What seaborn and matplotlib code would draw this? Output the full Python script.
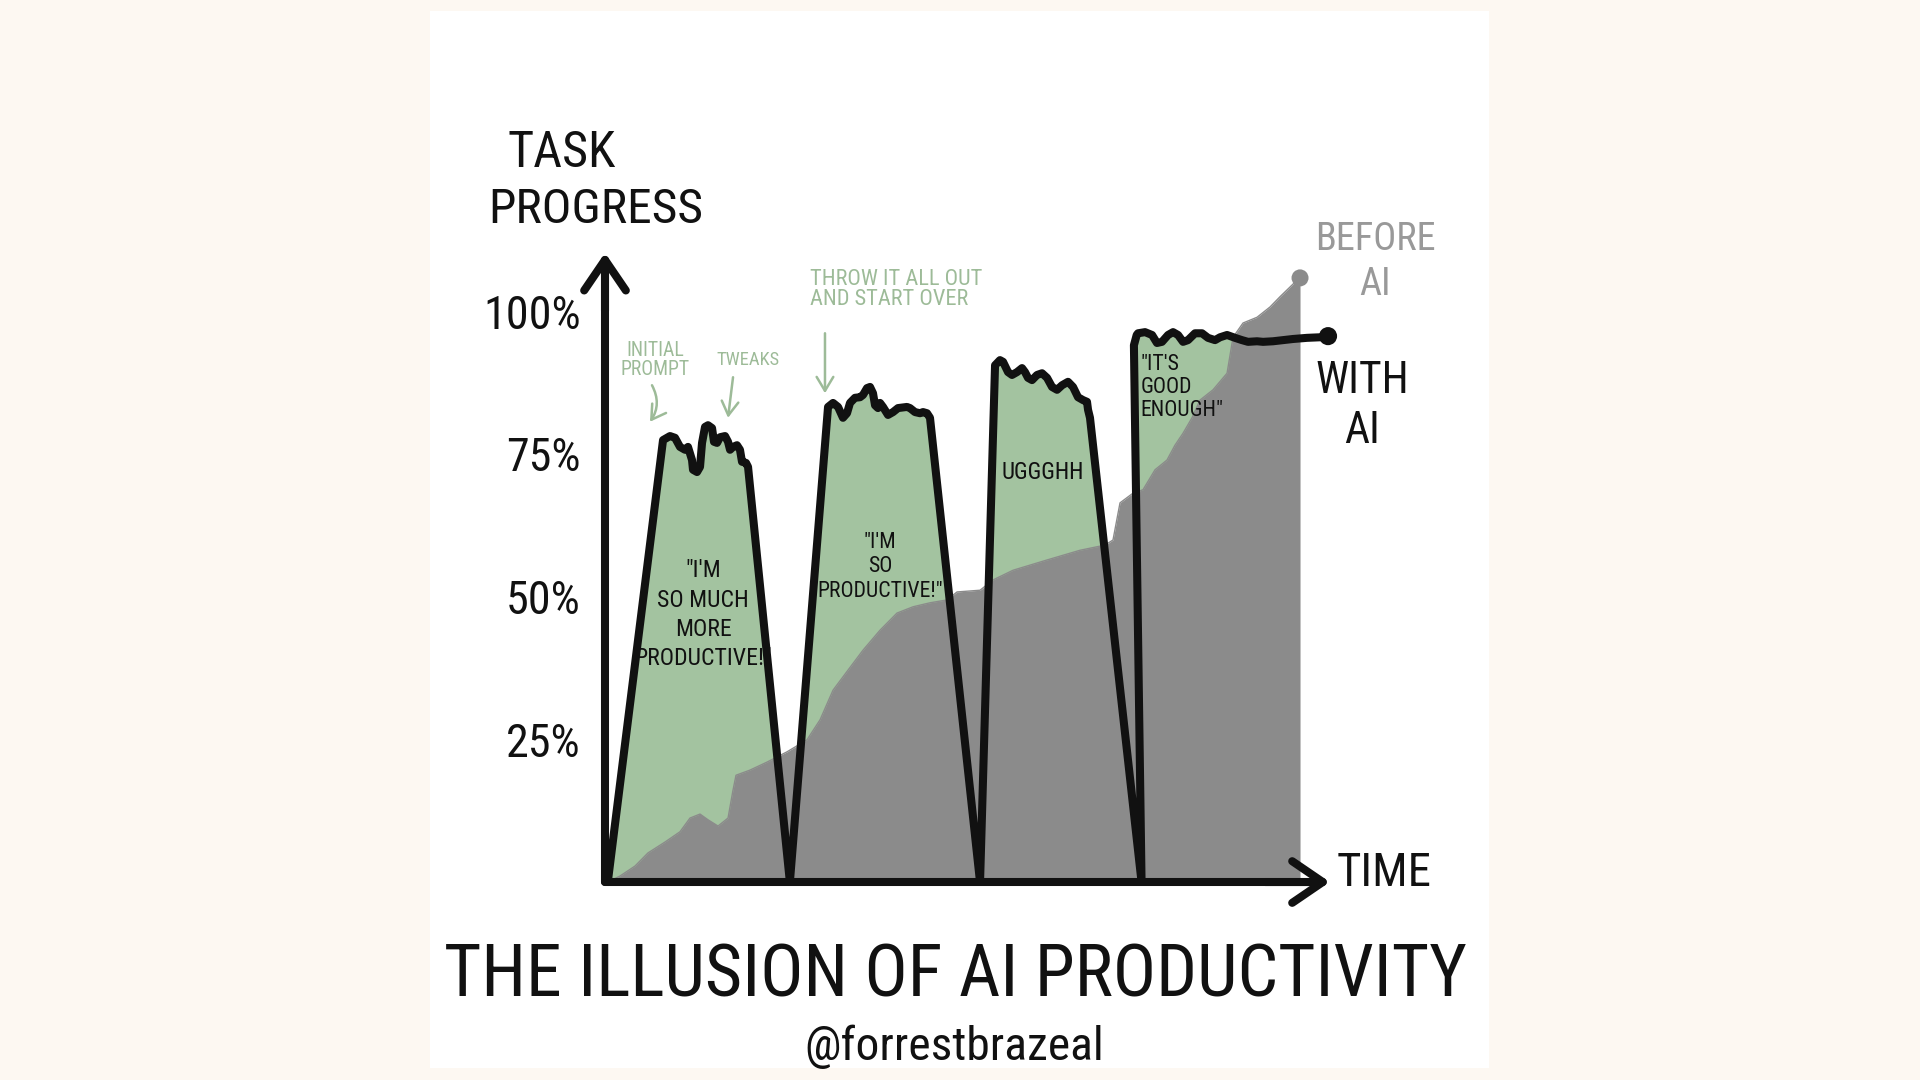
import numpy as np
import pandas as pd
import matplotlib
matplotlib.use("Agg")
import matplotlib.pyplot as plt
import seaborn as sns
from matplotlib import font_manager

# ---------------- data (time units 0-100 = end of "before AI" run, progress in %) ----------------
with_ai_time = [0.4, 8.35, 9.35, 10.07, 10.79, 11.51, 11.94, 12.52, 12.66, 13.24, 13.67, 13.96, 14.39,
                14.82, 15.40, 15.68, 16.12, 16.55, 17.27, 17.70, 17.99, 18.42, 18.99, 19.42, 19.71,
                20.29, 20.58, 26.6,
                32.09, 32.81, 33.53, 34.24, 34.82, 35.25, 35.97, 36.69, 37.12, 37.70, 38.13, 38.56,
                38.85, 39.28, 39.57, 40.0, 40.72, 41.44, 42.16, 43.45, 43.88, 44.60, 45.32, 45.76,
                46.33, 46.76, 53.96,
                56.12, 56.83, 57.27, 57.99, 58.56, 59.28, 60.0, 60.43, 60.86, 61.44, 62.16, 62.88,
                63.60, 64.32, 65.04, 65.76, 66.62, 67.34, 68.06, 68.78, 69.35, 69.50, 69.78, 77.2,
                76.1, 76.5, 76.69, 77.70, 78.71, 79.42, 80.14, 81.01, 81.73, 82.45, 83.17, 83.88,
                84.89, 85.90, 86.76, 87.77, 88.49, 89.50, 90.65, 91.65, 92.52, 93.81, 94.68, 96.12,
                97.55, 98.99, 101.0, 102.88, 104.03]
with_ai_progress = [0.0, 77.4, 78.1, 77.8, 76.2, 75.7, 76.2, 73.9, 72.2, 71.8, 72.7, 76.9, 79.7,
                    80.0, 79.5, 77.1, 76.9, 77.9, 78.1, 77.1, 75.7, 76.2, 76.5, 75.7, 73.6,
                    73.4, 72.7, 0.0,
                    83.2, 83.9, 83.2, 81.3, 82.1, 83.9, 84.8, 84.9, 85.3, 86.5, 86.7, 85.6,
                    83.5, 83.0, 83.9, 83.2, 81.8, 82.3, 83.0, 83.2, 83.0, 82.3, 82.1, 82.3,
                    82.1, 81.3, 0.0,
                    90.5, 91.4, 91.1, 89.3, 88.8, 89.3, 90.0, 89.3, 88.3, 87.9, 88.8, 89.1,
                    88.3, 86.7, 86.2, 87.0, 87.6, 86.7, 84.9, 84.4, 84.1, 82.7, 81.3, 0.0,
                    94.0, 95.8, 96.1, 96.3, 95.8, 94.4, 94.6, 95.8, 96.3, 95.8, 94.6, 94.9,
                    96.1, 96.1, 95.3, 94.9, 95.4, 95.8, 95.3, 94.9, 94.6, 94.7, 94.6, 94.7,
                    94.9, 95.1, 95.3, 95.4, 95.6]

before_ai_time = [0.4, 2.16, 4.32, 6.19, 8.63, 10.79, 12.23, 13.67, 14.82, 16.26, 17.70, 18.42,
                  18.85, 20.86, 23.31, 26.19, 29.06, 30.94, 32.81, 34.96, 37.12, 39.57, 42.01,
                  44.32, 46.76, 49.21, 50.65, 53.96, 55.83, 58.71, 63.60, 68.35, 71.94, 73.09,
                  74.10, 75.97, 77.41, 79.14, 80.86, 82.01, 83.17, 84.46, 85.61, 87.48, 89.50,
                  90.36, 91.80, 93.81, 95.68, 97.12, 98.56, 99.57, 100.0]
before_ai_progress = [0.0, 1.05, 2.8, 5.1, 7.0, 8.8, 11.2, 11.9, 10.9, 9.8, 11.2, 16.1,
                      18.7, 19.6, 21.0, 22.8, 24.9, 28.4, 33.6, 37.1, 40.6, 44.1, 47.1,
                      48.2, 48.9, 49.4, 50.8, 51.1, 52.9, 54.6, 56.4, 58.1, 59.0, 59.9,
                      66.4, 68.1, 68.7, 72.2, 73.9, 76.5, 78.6, 81.3, 84.4, 86.2, 89.1,
                      95.4, 97.9, 98.9, 100.7, 102.5, 104.2, 105.4, 105.8]

progress_ticks = [25, 50, 75, 100]
progress_tick_labels = ["25%", "50%", "75%", "100%"]

title_text = "THE ILLUSION OF AI PRODUCTIVITY"
credit_text = "@forrestbrazeal"

# ---------------- style ----------------
sns.set_theme(style="white")
entries = font_manager.fontManager.ttflist
names = {f.name for f in entries}
FONT, k, STRETCH = "DejaVu Sans", 0.8, "normal"
for cand, kk in [("Liberation Sans Narrow", 1.0), ("Roboto Condensed", 0.95),
                 ("Open Sans Condensed", 0.95), ("Noto Sans Condensed", 0.95)]:
    if cand in names:
        FONT, k = cand, kk
        break
else:
    for fam in ["DejaVu Sans", "Noto Sans", "Open Sans", "Roboto"]:
        conds = [f for f in entries if f.name == fam and str(f.stretch) in
                 ("condensed", "semi-condensed", "extra-condensed")]
        if conds:
            FONT, k, STRETCH = fam, (0.8 / 0.9 if fam == "DejaVu Sans" else 0.92), str(conds[0].stretch)
            break
plt.rcParams["font.family"] = [FONT, "DejaVu Sans"]
plt.rcParams["font.stretch"] = STRETCH

GREEN = "#a3c3a0"
GRAY = "#8b8b8b"
NOTE = "#9dbb98"
INK = "#111111"
BG = "#fdf8f2"

W, H = 1920, 1080
fig = plt.figure(figsize=(19.2, 10.8), dpi=100, facecolor=BG)
# white panel (pixel box 430..1489 x 11..1068) doubles as the axes
px0, px1, py0, py1 = 430, 1489, 11, 1068
ax = fig.add_axes([px0 / W, 1 - py1 / H, (px1 - px0) / W, (py1 - py0) / H])
ax.set_facecolor("white")
ax.set_xlim(-25.18, 127.19)
ax.set_ylim(-32.57, 152.54)

df_ai = pd.DataFrame({"time": with_ai_time, "progress": with_ai_progress})
df_before = pd.DataFrame({"time": before_ai_time, "progress": before_ai_progress})

# green "with AI" area (only where before-AI run exists)
g = df_ai[df_ai["time"] <= df_before["time"].max()]
ax.fill(list(g["time"]) + [g["time"].iloc[-1]], list(g["progress"]) + [0],
        color=GREEN, lw=0, zorder=1)
# gray "before AI" area
ax.fill_between(df_before["time"], 0, df_before["progress"], color=GRAY, lw=0, zorder=2)
sns.lineplot(data=df_before, x="time", y="progress", sort=False, estimator=None,
             color=GRAY, linewidth=1, ax=ax, zorder=2)
sns.scatterplot(x=[before_ai_time[-1]], y=[before_ai_progress[-1]], s=150, color=GRAY,
                edgecolor="none", ax=ax, zorder=3)

# black "with AI" line
sns.lineplot(data=df_ai, x="time", y="progress", sort=False, estimator=None,
             color=INK, linewidth=5.8, ax=ax, zorder=5)
ln = ax.lines[-1]
ln.set_solid_joinstyle("round")
ln.set_solid_capstyle("round")
sns.scatterplot(x=[with_ai_time[-1]], y=[with_ai_progress[-1]], s=170, color=INK,
                edgecolor="none", ax=ax, zorder=6)

# axes as arrows
for side in ["top", "right"]:
    ax.spines[side].set_visible(False)
ax.spines["left"].set_position(("data", 0))
ax.spines["bottom"].set_position(("data", 0))
ax.spines["left"].set_bounds(0, 108)
ax.spines["bottom"].set_bounds(0, 103)
for side in ["left", "bottom"]:
    ax.spines[side].set_linewidth(5.8)
    ax.spines[side].set_color(INK)
    ax.spines[side].set_capstyle("round")
    ax.spines[side].set_zorder(4)
ax.set_xticks([])
ax.set_yticks(progress_ticks, progress_tick_labels)
ax.tick_params(axis="y", direction="inout", length=31, width=5, color=INK,
               labelsize=35 * k, labelcolor=INK, pad=2)
ax.set_xlabel("")
ax.set_ylabel("")
arrow_kw = dict(arrowstyle="->,head_length=1.1,head_width=0.75", lw=5.8, color=INK,
                shrinkA=0, shrinkB=0, mutation_scale=20, capstyle="round", joinstyle="round")
ax.annotate("", xy=(0, 110.2), xytext=(0, 100), arrowprops=arrow_kw, zorder=6)
ax.annotate("", xy=(104.3, 0), xytext=(95, 0), arrowprops=arrow_kw, zorder=6)

# axis titles
ax.text(-14.1, 127.7, "TASK", fontsize=38 * k, color=INK, ha="left", va="center")
ax.text(-16.8, 117.7, "PROGRESS", fontsize=37.5 * k, color=INK, ha="left", va="center")
ax.text(105.3, 1.6, "TIME", fontsize=35.5 * k, color=INK, ha="left", va="center")

# series labels
ax.text(110.8, 108.6, "BEFORE\nAI", fontsize=29 * k, color="#999999", ha="center",
        va="center", linespacing=1.3)
ax.text(108.9, 83.3, "WITH\nAI", fontsize=33 * k, color=INK, ha="center",
        va="center", linespacing=1.25)

# notes with arrows
ax.text(7.19, 91.4, "INITIAL\nPROMPT", fontsize=15 * k, color=NOTE, ha="center",
        va="center", linespacing=0.95)
ax.text(20.58, 91.4, "TWEAKS", fontsize=14 * k, color=NOTE, ha="center", va="center")
ax.text(29.5, 103.7, "THROW IT ALL OUT\nAND START OVER", fontsize=17 * k, color=NOTE,
        ha="left", va="center", linespacing=0.95)
note_arrow = dict(arrowstyle="->,head_length=0.5,head_width=0.3", lw=1.8, color=NOTE,
                  shrinkA=0, shrinkB=0, mutation_scale=20)
ax.annotate("", xy=(6.47, 80.6), xytext=(6.76, 87.0),
            arrowprops=dict(note_arrow, connectionstyle="arc3,rad=-0.3"))
ax.annotate("", xy=(17.70, 81.3), xytext=(18.42, 88.4), arrowprops=note_arrow)
ax.annotate("", xy=(31.65, 85.6), xytext=(31.65, 96.1), arrowprops=note_arrow)

# inner quotes
ax.text(14.1, 46.8, "\"I'M\nSO MUCH\nMORE\nPRODUCTIVE!\"", fontsize=18 * k, color=INK,
        ha="center", va="center", linespacing=1.35, zorder=7)
ax.text(39.6, 55.2, "\"I'M\nSO\nPRODUCTIVE!\"", fontsize=16.5 * k, color=INK,
        ha="center", va="center", linespacing=1.2, zorder=7)
ax.text(63.0, 71.8, "UGGGHH", fontsize=17.5 * k, color=INK, ha="center", va="center", zorder=7)
ax.text(77.0, 86.6, "\"IT'S\nGOOD\nENOUGH\"", fontsize=16.5 * k, color=INK, ha="left",
        va="center", linespacing=1.15, zorder=7)

# title and credit
ax.text(50.5, -16.6, title_text, fontsize=54.5 * k, color=INK, ha="center", va="center")
ax.text(50.2, -28.9, credit_text, fontsize=36 * k, color=INK, ha="center", va="center")

fig.savefig("out.png", dpi=100, facecolor=BG)
